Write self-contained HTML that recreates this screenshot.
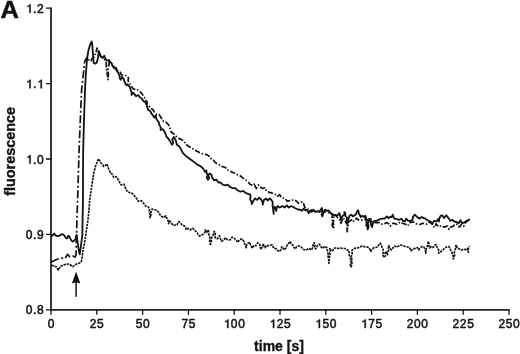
<!DOCTYPE html>
<html><head><meta charset="utf-8"><title>fluorescence</title>
<style>
html,body{margin:0;padding:0;background:#fff;}
body{width:520px;height:354px;overflow:hidden;font-family:"Liberation Sans",sans-serif;}
svg{display:block;filter:grayscale(1);}
</style></head><body>
<svg width="520" height="354" viewBox="0 0 520 354">
<rect width="520" height="354" fill="#fff"/>
<path d="M51.00,7.60V309.80H509.60" fill="none" stroke="#222" stroke-width="1.8" stroke-linejoin="miter"/>
<path d="M46.00,8.20H51.00 M46.00,83.60H51.00 M46.00,159.00H51.00 M46.00,234.40H51.00 M46.00,309.80H51.00 M51.00,309.80V314.80 M96.80,309.80V314.80 M142.60,309.80V314.80 M188.40,309.80V314.80 M234.20,309.80V314.80 M280.00,309.80V314.80 M325.80,309.80V314.80 M371.60,309.80V314.80 M417.40,309.80V314.80 M463.20,309.80V314.80 M509.00,309.80V314.80" fill="none" stroke="#111" stroke-width="1.3"/>
<g font-family="Liberation Sans, sans-serif" font-size="12" fill="#111" stroke="#111" stroke-width="0.5">
<path d="M29.42,12.80L30.56,12.80L30.56,4.40L29.66,4.40C29.36,5.18 28.58,5.78 27.38,6.08L27.38,6.98C28.22,6.86 28.94,6.50 29.42,6.08Z"/>
<text x="33.09" y="12.80">.</text>
<text x="37.03" y="12.80">2</text>
<path d="M29.42,88.20L30.56,88.20L30.56,79.80L29.66,79.80C29.36,80.58 28.58,81.18 27.38,81.48L27.38,82.38C28.22,82.26 28.94,81.90 29.42,81.48Z"/>
<text x="33.09" y="88.20">.</text>
<path d="M40.63,88.20L41.77,88.20L41.77,79.80L40.87,79.80C40.57,80.58 39.79,81.18 38.59,81.48L38.59,82.38C39.43,82.26 40.15,81.90 40.63,81.48Z"/>
<path d="M29.42,163.60L30.56,163.60L30.56,155.20L29.66,155.20C29.36,155.98 28.58,156.58 27.38,156.88L27.38,157.78C28.22,157.66 28.94,157.30 29.42,156.88Z"/>
<text x="33.09" y="163.60">.</text>
<text x="37.03" y="163.60">0</text>
<text x="25.82" y="239.00">0</text>
<text x="33.09" y="239.00">.</text>
<text x="37.03" y="239.00">9</text>
<text x="25.82" y="314.40">0</text>
<text x="33.09" y="314.40">.</text>
<text x="37.03" y="314.40">8</text>
<text x="47.66" y="328.00">0</text>
<text x="89.83" y="328.00">2</text>
<text x="97.10" y="328.00">5</text>
<text x="135.63" y="328.00">5</text>
<text x="142.90" y="328.00">0</text>
<text x="181.43" y="328.00">7</text>
<text x="188.70" y="328.00">5</text>
<path d="M227.19,328.00L228.33,328.00L228.33,319.60L227.43,319.60C227.13,320.38 226.35,320.98 225.15,321.28L225.15,322.18C225.99,322.06 226.71,321.70 227.19,321.28Z"/>
<text x="230.86" y="328.00">0</text>
<text x="238.14" y="328.00">0</text>
<path d="M272.99,328.00L274.13,328.00L274.13,319.60L273.23,319.60C272.93,320.38 272.15,320.98 270.95,321.28L270.95,322.18C271.79,322.06 272.51,321.70 272.99,321.28Z"/>
<text x="276.66" y="328.00">2</text>
<text x="283.94" y="328.00">5</text>
<path d="M318.79,328.00L319.93,328.00L319.93,319.60L319.03,319.60C318.73,320.38 317.95,320.98 316.75,321.28L316.75,322.18C317.59,322.06 318.31,321.70 318.79,321.28Z"/>
<text x="322.46" y="328.00">5</text>
<text x="329.74" y="328.00">0</text>
<path d="M364.59,328.00L365.73,328.00L365.73,319.60L364.83,319.60C364.53,320.38 363.75,320.98 362.55,321.28L362.55,322.18C363.39,322.06 364.11,321.70 364.59,321.28Z"/>
<text x="368.26" y="328.00">7</text>
<text x="375.54" y="328.00">5</text>
<text x="406.79" y="328.00">2</text>
<text x="414.06" y="328.00">0</text>
<text x="421.34" y="328.00">0</text>
<text x="452.59" y="328.00">2</text>
<text x="459.86" y="328.00">2</text>
<text x="467.14" y="328.00">5</text>
<text x="498.39" y="328.00">2</text>
<text x="505.66" y="328.00">5</text>
<text x="512.94" y="328.00">0</text>
</g>
<text x="279" y="350.5" font-family="Liberation Sans, sans-serif" font-weight="bold" font-size="14" text-anchor="middle" fill="#111" stroke="#111" stroke-width="0.35">time [s]</text>
<text transform="translate(14.5,151.4) rotate(-90)" x="0" y="0" font-family="Liberation Sans, sans-serif" font-weight="bold" font-size="14.4" text-anchor="middle" fill="#111" stroke="#111" stroke-width="0.35">fluorescence</text>
<text transform="translate(0.6,18.3) scale(1.06,1)" x="0" y="0" font-family="Liberation Sans, sans-serif" font-weight="bold" font-size="24" fill="#111" stroke="#111" stroke-width="0.5">A</text>
<path d="M76.1,296.7V282" stroke="#111" stroke-width="1.5" fill="none"/>
<path d="M76.1,271.6L80.3,283.6L76.1,282.2L71.9,283.6Z" fill="#111"/>
<polyline points="51.4,265.3 54.8,266.2 56.5,267.0 58.2,270.0 60.7,266.2 65.0,264.5 69.2,264.0 72.6,266.6 75.1,265.0 75.9,264.2 78.0,263.4 79.7,263.0 81.4,261.3 82.3,256.2 83.1,249.4 84.4,243.5 85.9,234.0 87.9,220.4 89.2,207.7 89.7,200.0 91.0,191.0 92.5,181.0 93.9,172.6 95.3,167.0 97.4,161.3 98.5,158.8 101.1,163.0 102.7,164.5 103.6,166.4 105.3,165.6 107.0,163.9 107.8,166.5 108.7,169.0 109.7,171.0 110.4,173.2 112.1,174.0 113.8,177.4 116.3,176.6 118.0,179.1 119.7,182.5 121.4,185.0 124.0,184.2 124.7,186.4 125.7,188.4 127.4,191.8 129.9,192.7 132.4,193.5 134.1,195.2 135.2,197.0 136.7,198.6 138.0,201.2 141.4,200.7 143.7,203.5 145.9,206.3 148.2,206.9 149.4,209.3 149.3,212.0 150.4,214.7 149.9,217.6 151.0,214.9 151.0,212.0 152.1,209.1 154.4,209.7 156.7,210.3 158.4,212.0 160.0,214.8 161.8,216.5 164.0,217.6 165.7,215.9 167.4,219.3 168.3,221.5 168.5,223.8 169.7,221.0 171.9,223.8 173.6,225.5 175.3,225.0 177.0,225.0 178.7,221.6 180.4,222.7 182.0,224.9 184.4,225.9 185.8,227.7 186.4,229.8 188.4,228.3 190.4,229.8 192.8,228.3 195.3,230.8 197.3,232.8 199.3,236.2 201.2,235.3 203.2,234.3 204.9,232.4 205.2,229.8 206.7,232.3 208.2,229.8 208.7,231.8 208.6,233.9 209.6,235.8 209.8,238.2 209.6,240.7 210.5,243.1 210.1,245.6 210.7,243.7 211.4,241.8 211.3,239.7 211.6,237.7 212.8,235.7 213.5,233.5 214.1,231.3 215.3,233.5 214.7,236.0 215.6,238.2 217.5,238.7 219.5,235.8 220.4,238.6 221.5,241.2 223.5,240.2 225.5,237.7 227.4,239.7 229.9,240.0 232.3,237.1 234.7,238.6 236.4,240.3 237.6,242.4 239.5,239.5 242.4,239.1 243.9,241.5 244.8,244.3 246.3,247.7 246.6,245.0 248.2,242.9 250.1,242.4 250.2,244.5 251.4,246.3 252.0,248.2 254.0,245.3 255.9,245.8 257.8,242.9 259.7,244.3 260.1,247.0 261.2,249.6 262.1,246.3 263.6,243.9 263.7,246.0 265.0,247.7 266.5,245.3 268.4,245.8 270.3,245.3 272.2,244.8 273.7,248.2 276.0,248.6 277.4,250.3 279.2,251.6 281.1,249.5 281.8,246.8 283.3,248.3 284.5,250.0 286.2,247.8 287.1,245.2 288.6,243.3 290.3,241.5 291.0,243.8 292.9,245.2 293.8,247.4 295.6,248.9 296.4,246.9 298.2,245.8 300.9,246.8 303.5,249.5 306.2,250.0 308.8,248.4 311.4,250.0 313.0,246.8 313.0,244.6 314.1,242.6 315.1,244.6 314.4,247.0 315.7,248.9 317.3,245.8 319.4,244.2 321.0,246.8 322.6,248.4 324.7,246.3 327.0,248.0 327.4,250.0 327.4,252.1 328.2,254.0 328.1,256.1 328.4,258.1 328.8,260.7 328.9,263.4 328.8,261.3 329.3,259.2 329.4,257.0 330.1,254.9 329.8,252.8 330.4,250.7 329.8,248.5 331.3,250.9 332.7,250.4 334.7,248.0 336.6,248.0 338.5,248.5 340.4,248.0 342.8,248.5 345.2,248.5 347.2,250.0 349.1,250.4 349.0,253.1 349.3,255.7 350.5,258.1 350.4,260.3 351.3,262.4 350.3,264.7 351.0,266.8 351.9,264.8 351.9,262.7 351.5,260.7 351.8,258.6 351.2,256.5 352.3,254.5 352.0,252.5 352.0,250.4 353.9,248.5 356.8,248.0 359.2,247.5 362.1,246.1 364.5,246.6 367.3,247.1 369.3,248.0 370.7,251.4 372.2,249.0 374.1,247.5 375.9,247.5 377.8,247.0 378.8,244.9 380.3,243.1 381.7,246.5 383.1,249.2 383.1,252.3 383.0,255.1 384.1,257.6 385.4,255.6 385.1,253.2 386.0,251.3 387.5,254.7 387.2,252.3 388.7,250.2 388.4,247.8 388.9,245.5 389.9,248.4 391.3,249.9 393.2,247.5 394.7,246.0 396.6,247.0 399.0,246.0 401.4,245.0 403.3,246.0 405.7,246.5 407.7,247.0 409.6,247.5 411.0,250.8 413.0,248.9 415.3,248.4 417.3,247.5 418.7,249.9 420.2,248.0 422.1,246.5 424.2,247.5 425.5,250.2 425.7,253.2 425.9,250.3 426.7,247.5 427.5,245.5 428.0,243.5 427.8,241.3 429.0,243.2 428.8,245.4 429.9,248.0 431.4,246.5 433.0,247.5 434.5,245.4 436.1,244.4 436.7,246.5 437.7,248.5 438.9,250.7 438.7,253.2 440.2,252.2 442.3,250.6 444.4,248.5 446.5,247.0 448.6,246.5 450.1,248.0 450.6,250.0 451.7,251.7 452.7,254.8 453.2,256.8 453.2,258.9 454.2,256.9 454.7,254.9 454.3,252.7 454.8,250.1 456.1,247.7 455.8,244.9 457.4,248.0 459.5,249.1 461.5,250.1 463.6,249.1 465.7,249.6 467.2,248.5 468.3,252.2 468.4,250.1 468.5,247.9 469.6,246.0" fill="none" stroke="#111" stroke-width="1.65" stroke-dasharray="2.4 0.9" stroke-linejoin="round"/>
<polyline points="51.4,262.0 54.8,260.3 58.2,259.0 61.6,258.1 65.0,258.6 67.5,254.3 70.0,256.9 73.4,256.0 74.3,258.6 76.0,255.2 76.4,240.0 76.6,233.0 77.1,214.0 77.6,200.0 79.1,150.0 80.3,120.0 81.6,90.0 83.8,70.0 84.5,62.0" fill="none" stroke="#111" stroke-width="1.7" stroke-dasharray="8 2.5 2 2.5" stroke-linejoin="round"/>
<polyline points="84.5,62.0 85.8,59.3 87.0,57.5 89.3,60.4 91.0,61.0 92.1,58.7 94.0,57.0 95.8,52.7 97.1,48.0 98.3,52.0 100.0,53.5 100.4,55.7 101.6,57.3 103.5,58.5 105.3,60.5 106.2,62.8 106.4,65.5 106.0,67.8 106.5,69.9 107.3,72.0 107.2,74.6 108.1,77.1 108.0,79.7 108.3,77.7 108.3,75.6 108.3,73.6 107.5,71.5 108.1,69.5 108.1,67.4 108.8,65.4 109.4,63.4 108.5,61.3 110.0,64.0 112.7,65.5 114.1,67.0 115.6,68.3 117.0,69.8 118.8,71.1 120.5,72.5 121.2,74.7 124.0,75.4 127.0,75.8 128.5,77.9 128.1,80.3 128.6,82.6 130.2,84.2 131.4,86.1 132.5,88.1 134.6,89.5 137.1,89.4 138.8,90.8 140.5,92.2 142.2,93.9 143.0,95.9 144.5,97.5 145.0,99.7 147.0,101.6 147.3,104.3 149.1,106.0 150.4,108.2 152.9,109.6 154.3,112.1 156.7,114.4 159.0,114.4 160.5,116.8 162.1,119.1 163.4,121.4 166.0,122.2 168.3,124.5 169.9,127.7 170.3,130.1 171.4,132.3 173.8,133.9 176.1,136.2 179.2,138.5 182.3,140.1 184.4,141.6 185.5,144.0 188.6,146.3 191.7,147.9 194.8,150.2 198.0,151.7 201.0,153.3 204.2,154.1 207.3,154.8 210.4,157.2 211.4,159.3 213.5,160.3 214.8,162.1 216.5,163.3 218.5,164.2 221.3,166.3 224.1,167.0 227.0,168.4 228.2,170.4 230.5,171.2 233.3,172.7 236.1,173.4 237.6,174.9 239.7,175.5 242.5,177.6 245.3,179.7 248.1,181.8 250.0,184.2 252.8,185.6 255.0,183.5 255.1,186.2 256.4,188.5 257.2,186.6 258.5,185.0 259.9,187.0 262.7,188.5 264.8,187.8 265.6,189.9 267.7,190.6 269.0,192.4 271.2,192.7 274.0,194.1 276.1,194.6 277.5,196.2 279.7,194.8 281.8,197.7 284.6,198.4 287.4,201.2 291.0,200.5 293.8,199.8 296.6,201.2 298.7,203.5 300.3,202.9 302.0,201.8 303.7,204.0 304.8,207.4 307.8,209.3 309.8,210.2 312.0,210.0 314.1,210.8 316.3,210.7 320.0,211.5 322.4,211.7 324.7,212.0 328.0,212.5 330.1,213.3 332.2,214.0 332.3,216.2 331.6,218.5 332.5,220.8 332.6,223.0 332.1,225.0 333.2,227.0 333.0,229.0 333.8,227.0 333.9,225.0 333.1,223.0 333.4,221.0 334.1,219.0 333.8,217.0 333.4,215.0 336.0,215.5 337.3,217.3 339.1,218.8 339.9,221.0 341.0,223.3 341.7,220.5 343.0,218.0 345.0,220.0 345.7,222.2 347.1,224.0 347.8,226.5 346.4,229.2 347.3,231.7 347.1,229.2 348.7,227.0 347.8,224.4 348.5,222.0 351.8,219.8 352.9,221.5 355.2,220.4 356.3,218.1 357.8,219.6 359.7,220.4 362.6,219.8 365.4,219.2 367.7,220.1 370.0,221.0 372.7,222.1 375.5,222.6 379.0,222.6 382.3,224.3 384.7,223.6 386.9,222.6 388.8,224.0 390.2,226.0 391.4,224.2 393.4,223.2 396.8,224.3 398.5,223.2 400.2,222.1 403.0,223.5 405.8,224.3 407.0,226.0 409.4,224.6 410.4,222.1 413.8,222.1 417.1,224.3 420.0,224.5 422.8,223.2 426.2,224.3 428.0,223.4 429.6,222.1 432.0,223.8 433.0,226.6 435.2,227.1 436.1,223.7 438.4,226.6 441.0,226.0 444.0,227.1 447.4,226.0 449.1,229.4 450.8,227.1 453.2,226.2 454.8,224.3 457.6,224.3 459.3,227.1 461.6,224.3 463.8,226.0 465.5,222.6 467.8,220.9 470.0,219.2" fill="none" stroke="#111" stroke-width="1.7" stroke-dasharray="5.5 1.8 1.5 1.8" stroke-linejoin="round"/>
<polyline points="51.3,236.0 52.5,235.6 54.2,233.5 55.9,235.6 57.6,236.2 59.3,235.6 61.0,234.6 62.7,234.1 64.4,235.6 65.7,237.7 67.0,238.6 68.2,236.0 69.0,236.0 70.3,238.6 71.6,240.7 72.9,241.6 74.6,240.3 75.8,238.6 76.6,235.0 78.0,245.0 78.8,250.9 79.7,254.4 80.8,247.0 82.3,235.0 82.6,220.0 83.0,195.0 83.0,170.0 83.2,150.0 84.0,120.0 85.0,90.0 85.8,75.0 86.8,62.0 87.5,56.0 88.5,50.0 90.2,44.5 91.7,41.5 92.4,46.0 92.8,52.7 93.7,62.9 95.4,63.7 96.7,62.5 97.9,58.6 98.8,51.0 100.5,56.1 101.7,57.0 103.0,57.8 104.3,55.7 105.1,57.8 106.4,60.3 108.1,60.3 109.0,60.0 110.2,62.0 111.9,63.4 112.3,65.6 114.5,68.5 116.2,67.9 116.4,70.4 117.9,72.4 119.6,75.8 119.6,77.9 120.7,79.8 121.9,77.0 123.6,78.6 124.7,82.0 126.4,85.4 127.5,84.3 129.8,87.1 130.9,90.5 131.7,92.7 131.5,95.0 133.2,92.8 134.3,93.9 136.0,96.2 138.2,95.0 139.9,97.3 141.6,98.4 143.4,101.0 145.8,102.8 146.6,105.1 147.4,107.4 148.1,109.8 150.4,111.3 151.3,113.4 152.8,115.2 154.3,117.5 155.9,115.2 156.1,118.1 157.4,120.7 158.9,122.3 159.0,124.5 160.7,127.0 160.6,130.0 162.9,129.2 164.4,131.5 166.0,134.7 166.6,136.9 168.3,138.5 169.6,140.4 170.7,142.4 172.2,144.8 173.2,142.3 172.3,139.4 173.8,137.0 175.3,139.3 176.2,142.0 176.9,144.8 179.2,146.3 180.8,148.7 182.0,151.5 183.2,153.3 185.5,155.6 188.6,158.0 191.7,160.3 194.8,162.6 198.0,164.9 201.0,166.5 203.4,168.8 205.0,171.9 206.5,170.4 206.4,172.8 207.8,175.0 206.7,177.5 208.0,179.7 209.3,177.8 208.2,175.3 209.6,173.5 211.6,175.0 212.0,177.4 214.2,180.4 216.4,179.7 218.5,182.5 220.6,182.5 222.7,184.7 225.5,185.4 227.7,184.7 229.8,186.8 232.6,188.2 235.4,188.2 237.5,190.3 240.4,191.7 243.2,191.0 246.0,193.1 248.1,193.8 250.3,194.5 250.6,196.9 250.1,199.4 251.6,201.6 251.7,204.0 253.1,201.5 254.9,198.4 257.1,199.8 259.2,197.7 261.3,199.8 262.5,202.1 262.7,204.7 263.3,202.2 264.1,199.8 266.2,198.4 267.7,200.5 269.8,198.4 271.2,199.8 272.6,201.7 272.7,203.9 272.6,206.1 273.1,208.7 273.3,211.3 273.7,213.9 273.5,211.5 273.8,209.1 274.7,206.8 275.9,208.8 276.1,211.1 276.7,208.6 277.5,206.1 279.7,207.5 282.5,206.1 284.6,207.5 286.7,205.4 288.8,207.5 291.0,206.1 293.1,206.8 295.2,208.2 298.0,209.5 300.3,209.7 302.0,210.8 303.7,208.6 305.4,210.3 307.0,209.7 308.7,213.1 309.9,210.8 311.6,212.0 313.3,209.7 315.0,212.0 317.2,211.4 319.5,212.0 320.6,209.7 321.8,208.0 322.3,210.1 323.0,212.2 321.5,214.4 322.3,216.5 323.0,214.3 323.5,212.0 325.1,209.7 326.8,210.8 328.5,210.3 330.2,212.5 331.9,214.2 334.2,214.8 336.5,215.4 338.2,214.8 339.3,213.1 340.4,216.5 340.7,218.8 341.6,221.0 341.5,218.3 342.7,215.9 344.5,214.3 344.4,212.0 345.5,213.7 345.2,215.9 347.0,217.7 346.6,219.9 347.3,222.6 348.4,219.2 349.5,215.8 351.2,214.7 352.9,216.4 354.6,215.3 356.3,214.1 356.8,212.0 358.0,210.2 359.1,213.6 360.8,217.0 362.5,215.8 364.2,217.0 365.4,215.8 366.5,219.2 366.3,221.3 366.5,223.3 366.3,225.4 367.5,227.3 367.6,229.4 368.5,227.4 368.4,225.4 367.9,223.2 368.7,221.3 368.8,219.2 369.9,218.7 371.0,219.2 370.6,221.9 371.0,224.6 372.1,227.1 372.7,224.3 373.3,221.5 375.0,220.9 376.7,220.9 378.4,219.8 380.1,219.2 382.3,218.7 384.6,218.7 386.9,216.4 388.6,218.1 390.2,217.0 391.7,217.0 392.8,214.7 393.5,216.8 394.5,218.7 396.8,219.2 399.0,219.8 401.3,218.7 403.0,220.9 404.7,221.5 406.4,218.7 408.1,220.9 410.4,220.9 412.6,219.8 412.9,216.9 414.9,214.7 417.1,217.0 419.4,218.7 421.7,217.0 423.9,218.1 426.2,219.2 428.5,220.9 430.7,221.5 432.4,223.8 434.1,220.9 436.4,221.5 438.1,219.2 439.0,221.5 439.3,218.5 440.6,215.8 442.3,215.3 444.0,218.1 446.3,215.3 448.6,218.1 450.3,220.9 452.0,219.8 454.2,221.5 456.5,222.0 458.7,223.2 460.4,220.3 462.1,223.2 463.8,222.6 465.5,221.5 467.8,220.3 470.0,219.2" fill="none" stroke="#111" stroke-width="1.8" stroke-linejoin="round"/>
</svg>
</body></html>
